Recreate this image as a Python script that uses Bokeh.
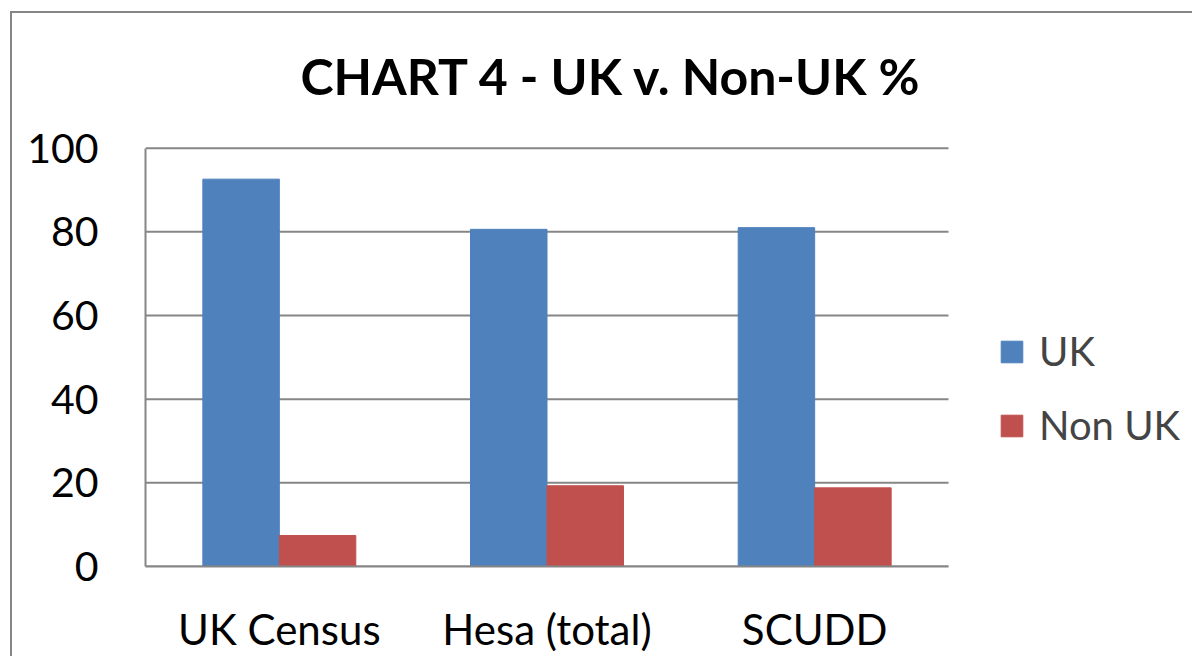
from bokeh.plotting import figure
from bokeh.models import Range1d, FixedTicker, Legend, LegendItem, ColumnDataSource
from bokeh.embed import file_html
from bokeh.resources import INLINE

categories = ["UK Census", "Hesa (total)", "SCUDD"]
uk_values = [92.6, 80.6, 81.0]
non_uk_values = [7.4, 19.3, 18.8]
series_names = ["UK", "Non UK"]
y_ticks = [0, 20, 40, 60, 80, 100]

FONT = "Lato"
GRID = "#868686"
BLUE = "#4F81BD"
RED = "#C0504D"

n = len(categories)
cat_x = [i + 0.5 for i in range(n)]
bw = 1 / 3.5

src = ColumnDataSource(dict(
    x_uk=[c - bw / 2 for c in cat_x], x_non=[c + bw / 2 for c in cat_x],
    uk=uk_values, non=non_uk_values,
))

W, H = 1192, 656
FL, FR, FT, FB = 145, 948, 148, 567  # plot-area edges in page pixels
x_end = n * (W - FL) / (FR - FL)

p = figure(
    x_range=Range1d(0, x_end),
    y_range=Range1d(0, 100.4),
    width=W, height=H,
    output_backend="svg", toolbar_location=None,
    title="CHART 4 - UK v. Non-UK %",
    min_border_left=FL, min_border_right=0,
    min_border_top=FT - 2, min_border_bottom=H - FB,
)
p.border_fill_alpha = 0
p.styles = {
    "background": "linear-gradient(#868686,#868686) 10px 11px / 2px 100% no-repeat, "
                  "linear-gradient(#868686,#868686) 10px 11px / 100% 2px no-repeat",
}

p.title.text_font = FONT
p.title.text_font_size = "50px"
p.title.text_font_style = "bold"
p.title.align = "left"
p.title.offset = 155
p.title.standoff = 81
p.title.text_color = "black"

# horizontal gridlines limited to the category area
p.segment(x0=0, x1=n, y0=y_ticks, y1=y_ticks, line_color=GRID, line_width=2)

r1 = p.vbar(x="x_uk", top="uk", width=bw, source=src, fill_color=BLUE, line_color=BLUE)
r2 = p.vbar(x="x_non", top="non", width=bw, source=src, fill_color=RED, line_color=RED)

p.outline_line_color = None
p.xgrid.grid_line_color = None
p.ygrid.grid_line_color = None
p.yaxis.ticker = FixedTicker(ticks=y_ticks)
p.xaxis.ticker = FixedTicker(ticks=cat_x)
p.xaxis.major_label_overrides = {c: lab for c, lab in zip(cat_x, categories)}
p.xaxis.bounds = (0, n)
p.yaxis.bounds = (0, 100)

for ax in (p.xaxis, p.yaxis):
    ax.axis_line_color = GRID
    ax.axis_line_width = 2
    ax.major_tick_line_color = None
    ax.minor_tick_line_color = None
    ax.major_label_text_font = FONT
    ax.major_label_text_color = "black"

p.yaxis.major_label_text_font_size = "41px"
p.xaxis.major_label_text_font_size = "42px"
p.yaxis.major_label_standoff = 41
p.xaxis.major_label_standoff = 31

legend = Legend(
    items=[LegendItem(label=series_names[0], renderers=[r1]),
           LegendItem(label=series_names[1], renderers=[r2])],
    location=(853, 117),
    glyph_width=27, glyph_height=27, label_height=27,
    label_text_font=FONT, label_text_font_size="40px",
    label_standoff=14, spacing=26,
    padding=0, margin=0,
    border_line_color=None, background_fill_alpha=0,
)
p.add_layout(legend, "center")

open("out.html", "w").write(file_html(p, INLINE))
